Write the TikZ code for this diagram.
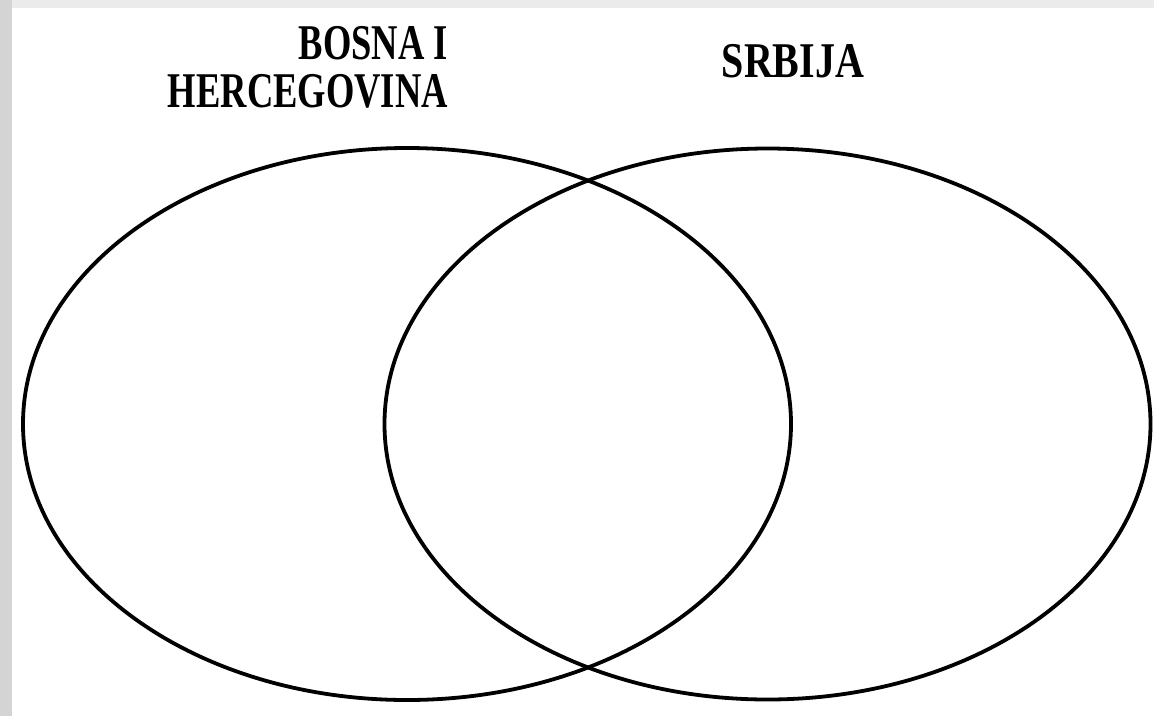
\documentclass[tikz,border=0pt]{standalone}
\usepackage{fontspec}
\setmainfont{Liberation Serif}
\usetikzlibrary{shapes.geometric}
\tikzset{
  setshape/.style={ellipse, draw=black, line width=3.8pt, inner sep=0pt, minimum width=#1},
  label text/.style={font=\fontsize{50}{48}\selectfont\bfseries, text=black, inner sep=0pt, xscale=#1, transform shape}
}
\begin{document}
\begin{tikzpicture}[x=1pt,y=-1pt]
\useasboundingbox (0,0) rectangle (1154,716);
\fill[white] (0,0) rectangle (1154,716);
\fill[black!8] (0,0) rectangle (1154,8);
\fill[black!17] (0,0) rectangle (12,716);
\node[setshape=768pt, minimum height=552pt] (bih) at (407,424) {};
\node[setshape=766pt, minimum height=551pt] (srb) at (767.5,424) {};
\node[label text=0.73, align=right, anchor=north east] (lbih) at (448,26) {BOSNA I\\HERCEGOVINA};
\node[label text=0.8, anchor=north] (lsrb) at (793,44) {SRBIJA};
\end{tikzpicture}
\end{document}
